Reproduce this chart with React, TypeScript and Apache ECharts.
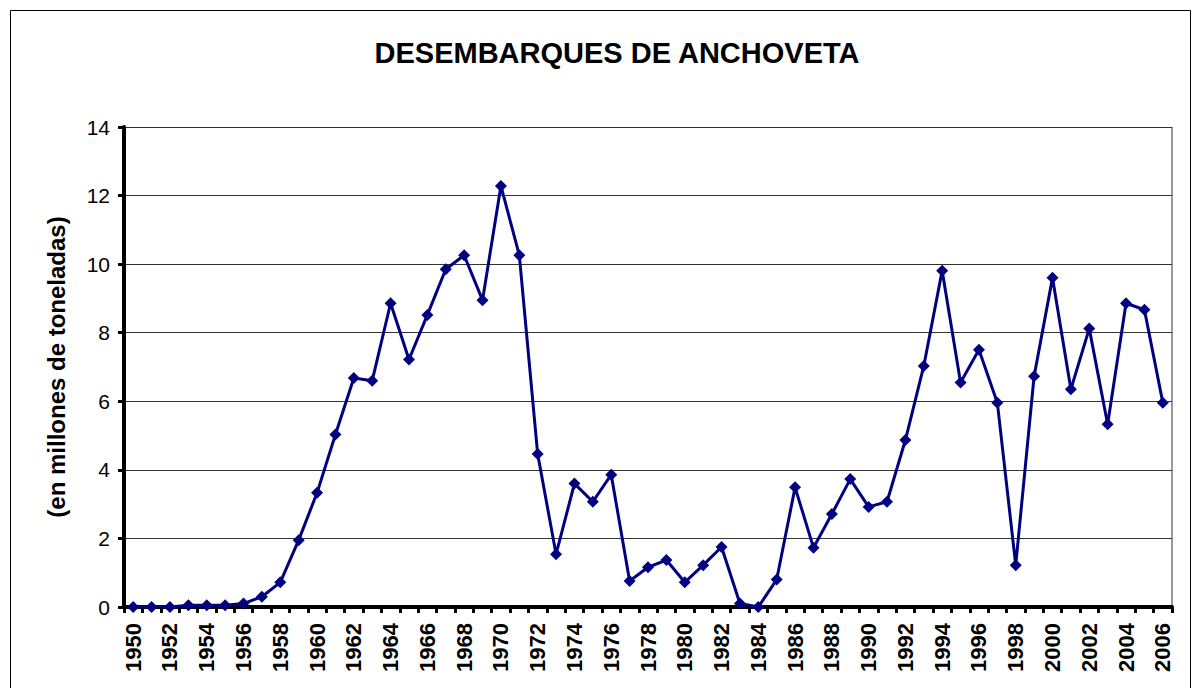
import React, { useEffect, useRef } from "react";
import * as echarts from "echarts";

const years: string[] = [];
for (let y = 1950; y <= 2006; y++) years.push(String(y));

const landings: number[] = [
  0.0, 0.0, 0.0, 0.05, 0.05, 0.05, 0.1, 0.3, 0.72, 1.95,
  3.33, 5.03, 6.68, 6.6, 8.86, 7.22, 8.52, 9.85, 10.26, 8.95,
  12.28, 10.26, 4.46, 1.54, 3.6, 3.07, 3.86, 0.76, 1.16, 1.37,
  0.72, 1.22, 1.75, 0.1, 0.0, 0.8, 3.49, 1.73, 2.71, 3.73,
  2.92, 3.07, 4.87, 7.03, 9.81, 6.55, 7.5, 5.96, 1.22, 6.73,
  9.6, 6.35, 8.12, 5.33, 8.86, 8.67, 5.96,
];

const yTicks = { min: 0, max: 14, interval: 2 };

export default function App() {
  const ref = useRef<HTMLDivElement>(null);
  useEffect(() => {
    if (!ref.current) return;
    const chart = echarts.init(ref.current, undefined, { renderer: "svg" });
    const font = "'Liberation Sans', Arial, sans-serif";
    chart.setOption({
      animation: false,
      backgroundColor: "#ffffff",
      title: {
        text: "DESEMBARQUES DE ANCHOVETA",
        left: 612,
        top: 33,
        textAlign: "center",
        textStyle: { fontFamily: font, fontSize: 29, fontWeight: "bold", color: "#000" },
      },
      graphic: [
        {
          type: "rect",
          shape: { x: 10.5, y: 10.5, width: 1180, height: 700 },
          style: { fill: "none", stroke: "#000", lineWidth: 1 },
          silent: true,
          z: -1,
        },
        {
          type: "line",
          shape: { x1: 1172, y1: 127, x2: 1172, y2: 607 },
          style: { stroke: "#999", lineWidth: 2 },
          silent: true,
        },
      ],
      grid: { left: 124, right: 28, top: 127, bottom: 81, containLabel: false },
      xAxis: {
        type: "category",
        data: years,
        boundaryGap: true,
        axisLine: { show: true, onZero: false, lineStyle: { color: "#000", width: 4 } },
        axisTick: { show: true, interval: 0, length: 6, lineStyle: { color: "#000", width: 3 } },
        axisLabel: {
          interval: 1,
          rotate: 90,
          margin: 16,
          fontFamily: font,
          fontSize: 22,
          fontWeight: "bold",
          color: "#000",
        },
        splitLine: { show: false },
      },
      yAxis: {
        type: "value",
        min: yTicks.min,
        max: yTicks.max,
        interval: yTicks.interval,
        name: "(en millones de toneladas)",
        nameLocation: "middle",
        nameGap: 56,
        nameRotate: 90,
        nameTextStyle: { fontFamily: font, fontSize: 24, fontWeight: "bold", color: "#000" },
        axisLine: { show: true, lineStyle: { color: "#000", width: 4 } },
        axisTick: { show: true, length: 6, lineStyle: { color: "#000", width: 3 } },
        axisLabel: { fontFamily: font, fontSize: 21, color: "#000", margin: 14 },
        splitLine: { show: true, lineStyle: { color: "#333", width: 1 } },
      },
      series: [
        {
          type: "line",
          data: landings,
          symbol: "diamond",
          symbolSize: 12,
          lineStyle: { color: "#000080", width: 3 },
          itemStyle: { color: "#000080" },
        },
      ],
    });
    return () => chart.dispose();
  }, []);
  return (
    <div
      ref={ref}
      style={{ position: "fixed", left: 0, top: 0, width: 1200, height: 688 }}
    />
  );
}
